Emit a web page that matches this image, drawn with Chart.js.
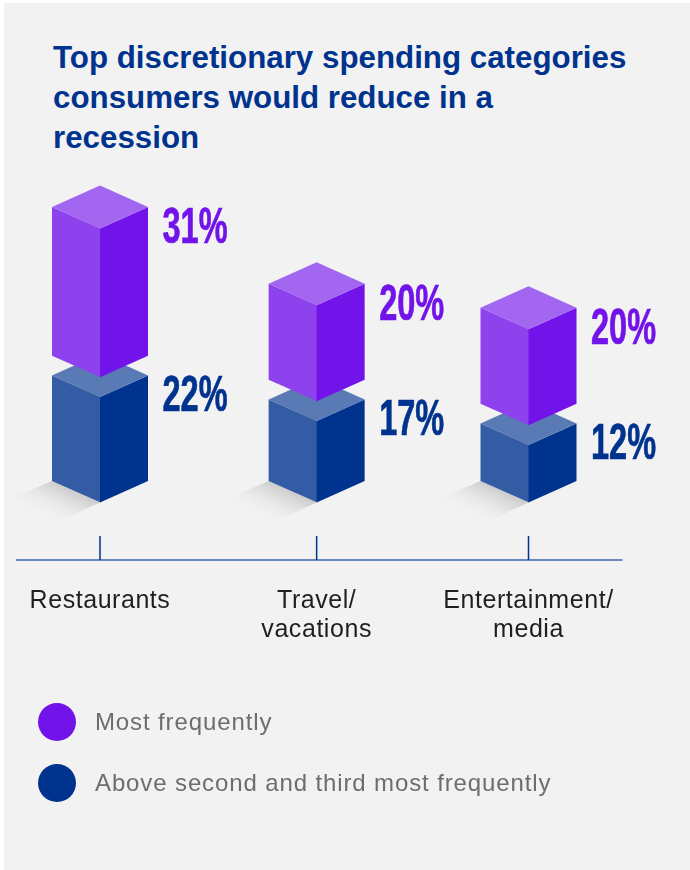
<!DOCTYPE html>
<html lang="en">
<head>
<meta charset="utf-8">
<title>Top discretionary spending categories</title>
<script src="https://cdn.jsdelivr.net/npm/chart.js@4/dist/chart.umd.js"></script>
<style>
  html, body { margin: 0; background: #fff; }
  body { width: 690px; height: 870px; overflow: hidden; position: relative; font-family: "Liberation Sans", Arial, sans-serif; }
  #panel { position: absolute; left: 4px; top: 3px; right: 0; bottom: 0; background: #f2f2f2; }
  canvas { position: absolute; left: 0; top: 0; }
  h1 { position: absolute; left: 53px; top: 38px; width: 630px; margin: 0; color: #00338d;
       font: bold 31.3px/40px "Liberation Sans", Arial, sans-serif; }
  #key { position: absolute; left: 38px; top: 0; margin: 0; padding: 0; list-style: none; }
  #key li { position: absolute; left: 0; display: flex; align-items: center; white-space: nowrap;
            height: 38px; color: #6d6d6d; font-size: 24px; letter-spacing: 0.88px; }
  #key i { display: block; width: 38px; height: 38px; border-radius: 50%; margin-right: 19px; }
</style>
</head>
<body>
<div id="panel"></div>
<h1>Top discretionary spending categories<br>consumers would reduce in a<br>recession</h1>
<canvas id="chart" width="690" height="870"></canvas>
<ul id="key"></ul>
<script>
// Survey results, percent of respondents
const categories = ['Restaurants', ['Travel/', 'vacations'], ['Entertainment/', 'media']];
const mostFrequently = [31, 20, 20];
const aboveSecondThird = [22, 17, 12];
const seriesNames = ['Most frequently', 'Above second and third most frequently'];
const seriesColors = ['#7213ea', '#00338d'];

// Empty space between the lower and the upper box, in axis units
const FLOAT_GAP = 4.1;
// Vertical reach of a box's top diamond, in pixels
const DIAMOND = 21.5;
// The middle column sits slightly right of the even spacing
const columnShift = [0, 2.4, 0];

function tint(hex, amount) {
  const n = parseInt(hex.slice(1), 16);
  const mix = c => Math.round(c + (255 - c) * amount);
  return `rgb(${mix(n >> 16)},${mix((n >> 8) & 255)},${mix(n & 255)})`;
}

// Bars are drawn as isometric boxes: shaded left face, full-colour right face, light top
Chart.BarElement.prototype.draw = function (ctx) {
  const { x, y, base, width } = this.getProps(['x', 'y', 'base', 'width']);
  const w = width / 2;
  const color = this.options.backgroundColor;
  const face = (fill, pts) => {
    ctx.fillStyle = fill;
    ctx.beginPath();
    pts.forEach(([px, py], i) => (i ? ctx.lineTo(px, py) : ctx.moveTo(px, py)));
    ctx.closePath();
    ctx.fill();
  };
  ctx.save();
  face(tint(color, 0.2), [[x - w, y], [x + 0.5, y + DIAMOND], [x + 0.5, base + DIAMOND], [x - w, base]]);
  face(color, [[x, y + DIAMOND], [x + w, y], [x + w, base], [x, base + DIAMOND]]);
  face(tint(color, 0.35), [[x - w, y], [x, y - DIAMOND], [x + w, y], [x, y + DIAMOND]]);
  ctx.restore();
};

// Category axis that honours the per-column shift
class ShiftedCategoryScale extends Chart.CategoryScale {
  static id = 'shiftedCategory';
  static defaults = Chart.CategoryScale.defaults;
  getPixelForValue(value, index) {
    const v = value === null || value === undefined ? index : value;
    return super.getPixelForValue(value, index) + (columnShift[Math.round(v)] || 0);
  }
}
Chart.register(ShiftedCategoryScale);

// Floor shadows, baseline and upward tick marks
const floorAndAxis = {
  id: 'floorAndAxis',
  beforeDraw(chart) {
    // Slightly open tracking for the category labels
    chart.ctx.letterSpacing = '0.55px';
  },
  beforeDatasetsDraw(chart) {
    const { ctx, scales: { x: xScale } } = chart;
    const bottom = chart.chartArea.bottom;
    chart.getDatasetMeta(1).data.forEach(bar => {
      const { x, base, width } = bar;
      const w = width / 2;
      // Fade runs square to the far edge of the shadow
      const grad = ctx.createLinearGradient(x - w / 2, base + DIAMOND / 2, x - 40, base + 45);
      grad.addColorStop(0, 'rgba(203,203,203,1)');
      grad.addColorStop(1, 'rgba(242,242,242,0)');
      ctx.save();
      ctx.fillStyle = grad;
      ctx.beginPath();
      ctx.moveTo(x - w, base);
      ctx.lineTo(x, base + DIAMOND);
      ctx.lineTo(x - 42, base + 41);
      ctx.lineTo(x - 92, base + 19);
      ctx.closePath();
      ctx.fill();
      ctx.restore();
    });
    ctx.save();
    ctx.lineWidth = 1.5;
    ctx.strokeStyle = '#3a65ae';
    ctx.beginPath();
    ctx.moveTo(16, bottom);
    ctx.lineTo(622.5, bottom);
    ctx.stroke();
    ctx.strokeStyle = '#00338d';
    xScale.ticks.forEach((t, i) => {
      const px = xScale.getPixelForTick(i);
      ctx.beginPath();
      ctx.moveTo(px, bottom);
      ctx.lineTo(px, bottom - 24);
      ctx.stroke();
    });
    ctx.restore();
  }
};

// Condensed percentage labels to the right of each box
const valueLabels = {
  id: 'valueLabels',
  afterDatasetsDraw(chart) {
    const { ctx } = chart;
    const values = [mostFrequently, aboveSecondThird];
    values.forEach((series, d) => {
      chart.getDatasetMeta(d).data.forEach((bar, i) => {
        ctx.save();
        ctx.letterSpacing = '0px';
        ctx.translate(bar.x + 95, bar.y + 21);
        ctx.scale(0.65, 1);
        ctx.font = 'bold 50px "Liberation Sans Narrow", "Liberation Sans", sans-serif';
        ctx.textAlign = 'center';
        ctx.textBaseline = 'middle';
        ctx.fillStyle = seriesColors[d];
        ctx.strokeStyle = seriesColors[d];
        ctx.lineWidth = 0.7;
        ctx.fillText(series[i] + '%', 0, 1);
        ctx.strokeText(series[i] + '%', 0, 1);
        ctx.restore();
      });
    });
  }
};

const chart = new Chart(document.getElementById('chart'), {
  type: 'bar',
  data: {
    labels: categories,
    datasets: [
      {
        label: seriesNames[0],
        data: mostFrequently.map((v, i) => [aboveSecondThird[i] + FLOAT_GAP, aboveSecondThird[i] + FLOAT_GAP + v]),
        backgroundColor: seriesColors[0]
      },
      {
        label: seriesNames[1],
        data: aboveSecondThird.map(v => [0, v]),
        backgroundColor: seriesColors[1]
      }
    ]
  },
  options: {
    responsive: false,
    animation: false,
    layout: { padding: { left: 100, right: 161.5, top: 193, bottom: 0 } },
    datasets: { bar: { barThickness: 96, grouped: false, clip: false } },
    plugins: { legend: { display: false }, title: { display: false }, tooltip: { enabled: false } },
    scales: {
      x: {
        type: 'shiftedCategory',
        offset: false,
        border: { display: false },
        grid: { display: false, drawTicks: false },
        afterFit(scale) { scale.height = 310; },
        ticks: {
          autoSkip: false,
          maxRotation: 0,
          minRotation: 0,
          padding: 26.5,
          color: '#1f1f1f',
          font: { family: '"Liberation Sans", Arial, sans-serif', size: 25, lineHeight: 1.16 }
        }
      },
      y: { display: false, min: -16.458, max: 60 }
    }
  },
  plugins: [floorAndAxis, valueLabels]
});

// Legend built from the chart's own datasets
const key = document.getElementById('key');
const keyTops = [703, 764];
chart.data.datasets.forEach((ds, i) => {
  const li = document.createElement('li');
  li.style.top = keyTops[i] + 'px';
  const dot = document.createElement('i');
  dot.style.background = ds.backgroundColor;
  li.append(dot, ds.label);
  key.append(li);
});
</script>
</body>
</html>
